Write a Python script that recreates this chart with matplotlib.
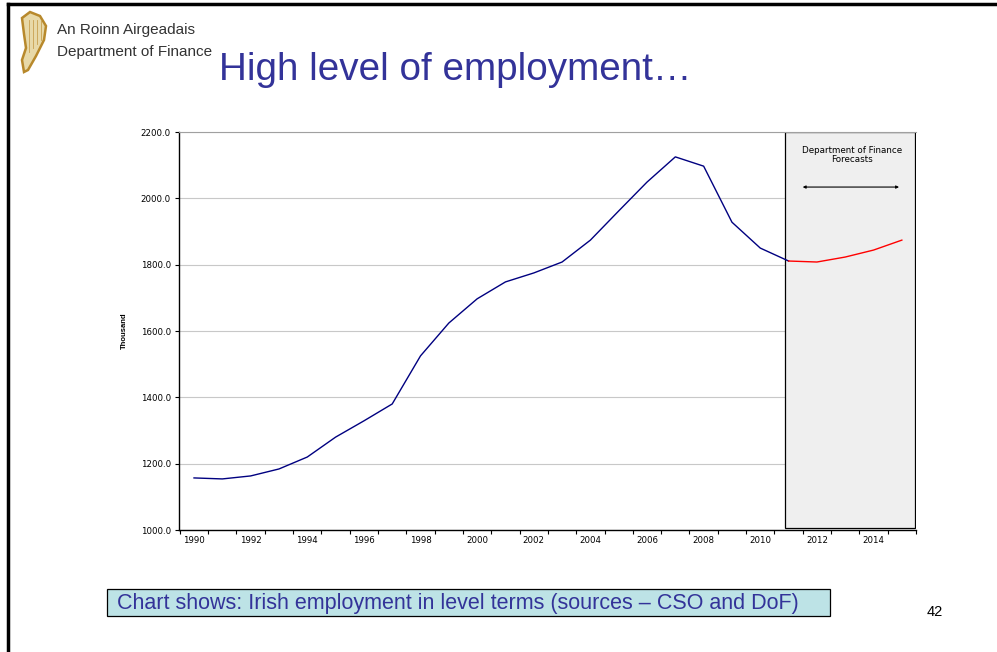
import numpy as np
import matplotlib
matplotlib.use('Agg')
import matplotlib.pyplot as plt
from matplotlib.patches import Rectangle, Polygon

# data (thousand persons employed)
years = [1990, 1991, 1992, 1993, 1994, 1995, 1996, 1997, 1998, 1999, 2000,
         2001, 2002, 2003, 2004, 2005, 2006, 2007, 2008, 2009, 2010, 2011]
employment = [1157, 1154, 1163, 1184, 1220, 1280, 1329, 1380, 1525, 1624, 1697,
              1748, 1775, 1808, 1874, 1962, 2049, 2125, 2097, 1928, 1850, 1811]
fc_years = [2011, 2012, 2013, 2014, 2015]
fc_employment = [1811, 1808, 1823, 1844, 1874]

y_ticks = [1000, 1200, 1400, 1600, 1800, 2000, 2200]
x_labels = [1990, 1992, 1994, 1996, 1998, 2000, 2002, 2004, 2006, 2008, 2010, 2012, 2014]

arial = ['Liberation Sans', 'DejaVu Sans']
wide = ['DejaVu Sans']

W, H = 997, 652
fig = plt.figure(figsize=(9.97, 6.52), dpi=100)

def fx(px):
    return px / W

def fy(py):
    return 1 - py / H

# slide frame (top and left edges)
fig.add_artist(plt.Line2D([fx(8), 1.0], [fy(4), fy(4)], color='black', lw=2.5))
fig.add_artist(plt.Line2D([fx(8), fx(8)], [0.0, fy(4)], color='black', lw=2.5))

# harp logo, rough stand-in
harp = [(22, 18), (30, 12), (40, 16), (46, 26), (44, 40), (36, 56), (28, 70),
        (24, 72), (22, 60), (26, 48), (24, 34)]
fig.add_artist(Polygon([(fx(a), fy(b)) for a, b in harp], closed=True,
                       facecolor='#e8d9a8', edgecolor='#b8892c', lw=1.8,
                       transform=fig.transFigure))
for sx in [29, 33, 37, 41]:
    fig.add_artist(plt.Line2D([fx(sx), fx(sx)], [fy(20), fy(52 - (sx - 29))],
                              color='#c8a050', lw=0.6))

fig.text(fx(57), fy(30), 'An Roinn Airgeadais', family=arial, fontsize=11,
         color='#333333', va='center')
fig.text(fx(57), fy(52), 'Department of Finance', family=arial, fontsize=11,
         color='#333333', va='center')

fig.text(fx(219), fy(70), 'High level of employment\u2026', family=arial,
         fontsize=27.8, color='#333399', va='center')

ax = fig.add_axes([fx(179), fy(530), fx(916) - fx(179), fy(132) - fy(530)])
x0, x1 = 1989.47, 2015.45
ax.set_xlim(x0, x1)
ax.set_ylim(1000, 2200)

ax.set_yticks(y_ticks)
ax.set_yticklabels([f'{v:.1f}' for v in y_ticks], family=wide, fontsize=6.2)
ax.tick_params(axis='y', length=3, width=0.8, pad=3)
ax.grid(axis='y', color='#c8c8c8', lw=0.8)
ax.set_axisbelow(True)

# category boundaries as tick marks, labels at every other year
ax.set_xticks(np.arange(1989.5, 2016.0, 1.0))
ax.set_xticklabels([])
ax.tick_params(axis='x', which='major', length=3, width=0.8)
ax.set_xticks(x_labels, minor=True)
ax.set_xticklabels([str(y) for y in x_labels], minor=True, family=wide, fontsize=6.2)
ax.tick_params(axis='x', which='minor', length=0, pad=4)

for s in ['left', 'bottom']:
    ax.spines[s].set_linewidth(1.0)
ax.spines['top'].set_color('#a0a0a0')
ax.spines['right'].set_visible(False)

ax.set_ylabel('Thousand', family=arial, fontsize=5.5, fontweight='bold', labelpad=9)

# forecast panel
ax.add_patch(Rectangle((2010.86, 1006), x1 - 2010.86, 2200 - 1006,
                       facecolor='#efefef', edgecolor='black', lw=0.9, zorder=1.5))
ax.text(2013.25, 2158, 'Department of Finance\nForecasts', family=wide,
        fontsize=6.3, ha='center', va='top', linespacing=0.95, zorder=3)
ax.annotate('', xy=(2015.0, 2034), xytext=(2011.4, 2034),
            arrowprops=dict(arrowstyle='<|-|>', color='black', lw=0.8,
                            mutation_scale=4), zorder=3)

ax.plot(years, employment, color='#000080', lw=1.0, zorder=3)
ax.plot(fc_years, fc_employment, color='#ff0000', lw=1.0, zorder=3)

# caption box
fig.add_artist(Rectangle((fx(107), fy(616)), fx(830) - fx(107), fy(589) - fy(616),
                         facecolor='#bde3e6', edgecolor='black', lw=0.9,
                         transform=fig.transFigure))
fig.text(fx(117), fy(603), 'Chart shows: Irish employment in level terms (sources \u2013 CSO and DoF)',
         family=arial, fontsize=15.5, color='#333399', va='center')
fig.text(fx(935), fy(612), '42', family=arial, fontsize=10.5, ha='center', va='center')

fig.savefig('out.png', dpi=100)
